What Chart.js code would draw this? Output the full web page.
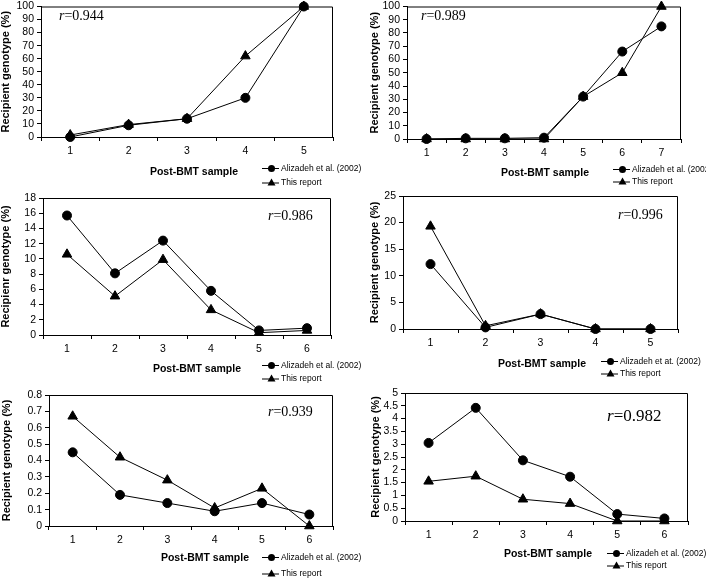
<!DOCTYPE html>
<html><head><meta charset="utf-8">
<script src="https://cdn.jsdelivr.net/npm/chart.js@4/dist/chart.umd.min.js"></script>
<style>
body{margin:0;background:#fff;width:706px;height:578px;position:relative;overflow:hidden;font-family:"Liberation Sans",Arial,sans-serif}
canvas{position:absolute;left:0;top:0}
.t{position:absolute;white-space:nowrap;color:#000}
.xt{font-weight:bold;font-size:10.5px;transform:translate(-50%,-50%)}
.r{font-family:"Liberation Serif","Times New Roman",serif;transform:translateY(-50%)}
.lg{font-size:8.5px;transform:translateY(-50%);display:flex;align-items:center}
</style></head><body>
<script>
// ---- data ----
const samples5 = ['1','2','3','4','5'];
const samples6 = ['1','2','3','4','5','6'];
const samples7 = ['1','2','3','4','5','6','7'];

const alizadeh1 = [0, 9, 14, 30, 100];
const report1   = [1.5, 9.5, 14, 62, 100];

const alizadeh2 = [0, 0.5, 0.5, 1, 32, 66, 85];
const report2   = [0, 0, 0, 0, 32, 50, 100];

const alizadeh3 = [15.7, 8.1, 12.4, 5.8, 0.6, 0.9];
const report3   = [10.6, 5.1, 9.9, 3.3, 0.3, 0.6];

const alizadeh4 = [12.2, 0.3, 2.8, 0, 0];
const report4   = [19.3, 0.6, 2.8, 0, 0];

const alizadeh5 = [0.45, 0.19, 0.14, 0.09, 0.14, 0.07];
const report5   = [0.67, 0.42, 0.28, 0.11, 0.23, 0.0];

const alizadeh6 = [3.05, 4.42, 2.37, 1.73, 0.27, 0.1];
const report6   = [1.55, 1.75, 0.85, 0.68, 0, 0];

const rValues = ['0.944', '0.989', '0.986', '0.996', '0.939', '0.982'];
const yTitles = ['Recipient genotype (%)','Recipient genotype (%)','Recipienr genotype (%)','Recipient genotype (%)','Recipient genotype (%)','Recipient genotype (%)'];
const seriesNames = ['Alizadeh et al. (2002)', 'This report'];
const seriesNames4 = ['Alizadeh et at. (2002)', 'This report'];
const xTitle = 'Post-BMT sample';

// ---- layout ----
const panels = [
  {labels:samples5, a:alizadeh1, b:report1, max:100, step:10, L:41, T:4, R:333, B:137, tx:5,
   xt:[194,171], r:[59,16,14], lg:[262,168,182], names:seriesNames},
  {labels:samples7, a:alizadeh2, b:report2, max:100, step:10, L:407, T:4, R:681, B:139, tx:375,
   xt:[545,172], r:[421,16,14], lg:[613,169,181], names:seriesNames},
  {labels:samples6, a:alizadeh3, b:report3, max:18, step:2, L:43, T:198, R:331, B:335, tx:5,
   xt:[197,368], r:[268,216,14], lg:[262,365,378], names:seriesNames},
  {labels:samples5, a:alizadeh4, b:report4, max:25, step:5, L:403, T:196, R:678, B:329, tx:375,
   xt:[542,363], r:[618,215,14], lg:[601,361,373], names:seriesNames4},
  {labels:samples6, a:alizadeh5, b:report5, max:0.8, step:0.1, L:49, T:395, R:333, B:526, tx:7,
   xt:[205,557], r:[268,412,14], lg:[262,557,573], names:seriesNames},
  {labels:samples6, a:alizadeh6, b:report6, max:5, step:0.5, L:405, T:393, R:688, B:521, tx:376,
   xt:[548,553], r:[607,416,17], lg:[607,553,565], names:seriesNames}
];

const FAM = '"Liberation Sans", Arial, sans-serif';
const boxPlugin = {id:'box', afterDraw(c){
  const {ctx, chartArea:a} = c;
  ctx.save(); ctx.strokeStyle='#000'; ctx.lineWidth=1;
  ctx.beginPath(); ctx.moveTo(a.left, a.top+0.5); ctx.lineTo(a.right-0.5, a.top+0.5); ctx.lineTo(a.right-0.5, a.bottom); ctx.stroke();
  ctx.restore();
}};

function addText(cls, html, x, y, extra){
  const d = document.createElement('div');
  d.className = 't ' + cls; d.style.left = x+'px'; d.style.top = y+'px';
  if (extra) Object.assign(d.style, extra);
  d.innerHTML = html; document.body.appendChild(d);
}

panels.forEach((p, i) => {
  const cv = document.createElement('canvas');
  cv.width = 706; cv.height = 578; document.body.appendChild(cv);
  const padLeft = Math.max(0, p.tx - 5.5);
  const W = p.L - padLeft;
  const XH = 20;
  new Chart(cv, {
    type:'line',
    data:{labels:p.labels, datasets:[
      {label:p.names[0], data:p.a, borderColor:'#000', borderWidth:1, tension:0, clip:false,
       pointStyle:'circle', pointRadius:4.5, pointBackgroundColor:'#000', pointBorderColor:'#000', pointBorderWidth:1},
      {label:p.names[1], data:p.b, borderColor:'#000', borderWidth:1, tension:0, clip:false,
       pointStyle:'triangle', pointRadius:5.5, pointBackgroundColor:'#000', pointBorderColor:'#000', pointBorderWidth:1}
    ]},
    options:{
      responsive:false, animation:false, events:[],
      layout:{padding:{left:padLeft, top:p.T, right:706-p.R, bottom:578-p.B-XH}},
      plugins:{legend:{display:false}, tooltip:{enabled:false}},
      scales:{
        x:{type:'category', offset:true,
           grid:{offset:true, drawOnChartArea:false, tickLength:4, color:'#000'},
           border:{color:'#000'},
           ticks:{color:'#000', font:{size:10.5, family:FAM}, padding:4, maxRotation:0, autoSkip:false},
           afterFit(s){ s.height = XH; s.paddingLeft = 0; s.paddingRight = 0; }},
        y:{min:0, max:p.max,
           grid:{drawOnChartArea:false, tickLength:4, color:'#000'},
           border:{color:'#000'},
           ticks:{stepSize:p.step, autoSkip:false, color:'#000', font:{size:10.5, family:FAM}, padding:3,
                  callback:v => String(+Number(v).toFixed(2))},
           title:{display:true, text:yTitles[i], color:'#000', font:{size:11, weight:'bold', family:FAM, lineHeight:1}, padding:0},
           afterFit(s){ s.width = W; s.paddingTop = 0; s.paddingBottom = 0; }}
      }
    },
    plugins:[boxPlugin]
  });

  addText('xt', xTitle, p.xt[0], p.xt[1]);
  addText('r', '<i>r</i>=' + rValues[i], p.r[0], p.r[1], {fontSize:p.r[2]+'px'});
  const circ = '<svg width="17" height="9"><line x1="0" y1="4.5" x2="17" y2="4.5" stroke="#000" stroke-width="1"/><circle cx="9.5" cy="4.5" r="3.5" fill="#000"/></svg>';
  const tri = '<svg width="17" height="9"><line x1="0" y1="5" x2="17" y2="5" stroke="#000" stroke-width="1"/><polygon points="9.5,0.5 13.5,7.5 5.5,7.5" fill="#000"/></svg>';
  addText('lg', circ + '<span style="margin-left:2px">' + p.names[0] + '</span>', p.lg[0], p.lg[1]);
  addText('lg', tri + '<span style="margin-left:2px">' + p.names[1] + '</span>', p.lg[0], p.lg[2]);
});
</script>
</body></html>
